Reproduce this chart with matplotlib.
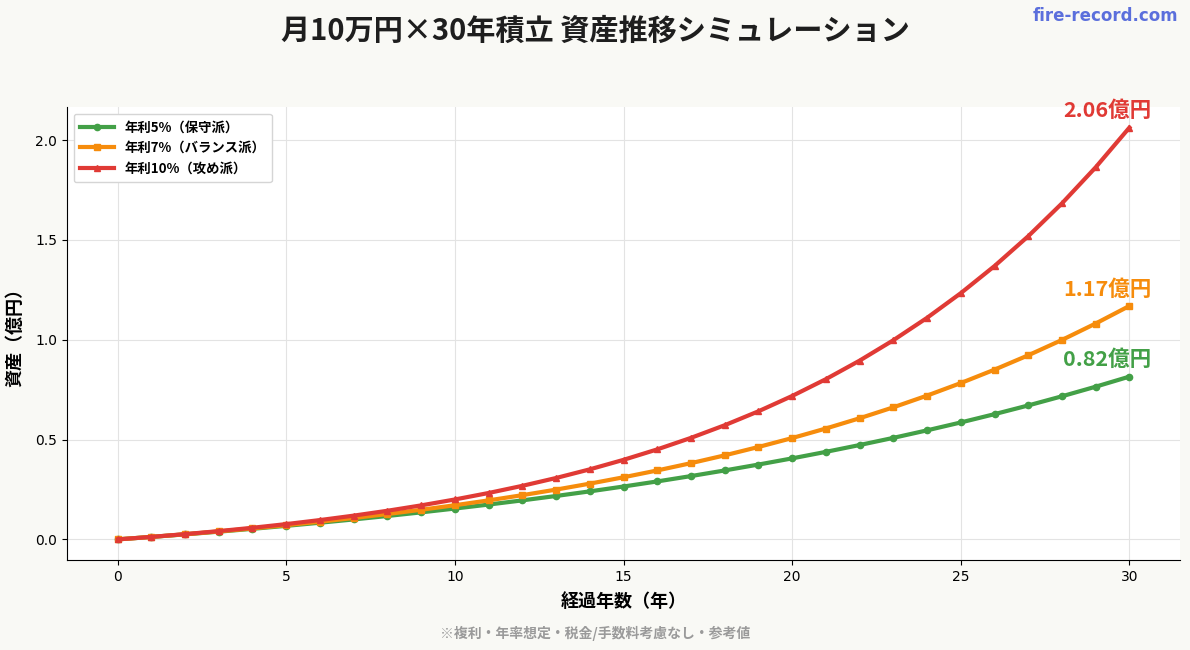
import matplotlib
matplotlib.use("Agg")
import matplotlib.pyplot as plt

years = list(range(0, 31))
rate5 = [0.0, 0.0123, 0.0252, 0.0387, 0.0529, 0.0678, 0.0835, 0.0999, 0.1172, 0.1353,
         0.1544, 0.1744, 0.1954, 0.2174, 0.2405, 0.2648, 0.2903, 0.3171, 0.3453, 0.3748,
         0.4058, 0.4384, 0.4726, 0.5085, 0.5462, 0.5857, 0.6273, 0.6709, 0.7168, 0.7649, 0.8154]
rate7 = [0.0, 0.0124, 0.0256, 0.0398, 0.0550, 0.0712, 0.0886, 0.1071, 0.1270, 0.1483,
         0.1711, 0.1954, 0.2215, 0.2493, 0.2792, 0.3111, 0.3453, 0.3818, 0.4209, 0.4628,
         0.5075, 0.5554, 0.6067, 0.6615, 0.7202, 0.7830, 0.8502, 0.9221, 0.9990, 1.0814, 1.1694]
rate10 = [0.0, 0.0125, 0.0263, 0.0415, 0.0582, 0.0766, 0.0968, 0.1190, 0.1434, 0.1703,
          0.1999, 0.2324, 0.2682, 0.3075, 0.3508, 0.3984, 0.4508, 0.5085, 0.5718, 0.6416,
          0.7183, 0.8026, 0.8954, 0.9975, 1.1098, 1.2333, 1.3692, 1.5187, 1.6831, 1.8639, 2.0628]

labels = ["年利5%（保守派）", "年利7%（バランス派）", "年利10%（攻め派）"]
end_labels = ["0.82億円", "1.17億円", "2.06億円"]
colors = ["#43a047", "#f68c0c", "#e03a35"]
markers = ["o", "s", "^"]

JP = ["Noto Sans CJK JP", "DejaVu Sans"]
plt.rcParams["font.family"] = JP

fig = plt.figure(figsize=(11.9, 6.5), dpi=100, facecolor="#f9f9f5")
ax = fig.add_axes([0.0563, 0.1385, 0.9353, 0.6969])
ax.set_facecolor("white")

series = [rate5, rate7, rate10]
for vals, lab, col, mk, el in zip(series, labels, colors, markers, end_labels):
    ax.plot(years, vals, color=col, marker=mk, markersize=4.5, linewidth=3, label=lab, zorder=3)
    ax.annotate(el, xy=(years[-1], vals[-1]), xytext=(-16, 12), textcoords="offset points",
                ha="center", va="center", fontsize=15.5, fontweight="bold", color=col)

ax.grid(True, color="#e3e3e3", linewidth=0.8, zorder=0)
ax.set_axisbelow(True)
for s in ["top", "right"]:
    ax.spines[s].set_visible(False)
ax.set_xticks([0, 5, 10, 15, 20, 25, 30])
ax.set_yticks([0.0, 0.5, 1.0, 1.5, 2.0])
for t in ax.get_xticklabels() + ax.get_yticklabels():
    t.set_fontfamily("DejaVu Sans")
    t.set_fontsize(10)

ax.set_xlabel("経過年数（年）", fontsize=13, fontweight="bold", labelpad=6)
ax.set_ylabel("資産（億円）", fontsize=13, fontweight="bold", labelpad=8)

leg = ax.legend(loc="upper left", prop={"weight": "bold", "size": 9.6, "family": JP},
                frameon=True, framealpha=1, edgecolor="#d5d5d5", borderpad=0.5, handlelength=2.5)

fig.text(0.5, 0.952, "月10万円×30年積立 資産推移シミュレーション", ha="center", va="center",
         fontsize=21, fontweight="bold", color="#1e1e1e")
fig.text(0.929, 0.975, "fire-record.com", ha="center", va="center", fontsize=12,
         fontweight="bold", color="#5b6fdc", family="DejaVu Sans")
fig.text(0.5, 0.026, "※複利・年率想定・税金/手数料考慮なし・参考値", ha="center", va="center",
         fontsize=10, fontweight="bold", color="#9a9a9a")

fig.savefig("out.png", dpi=100, facecolor=fig.get_facecolor())
